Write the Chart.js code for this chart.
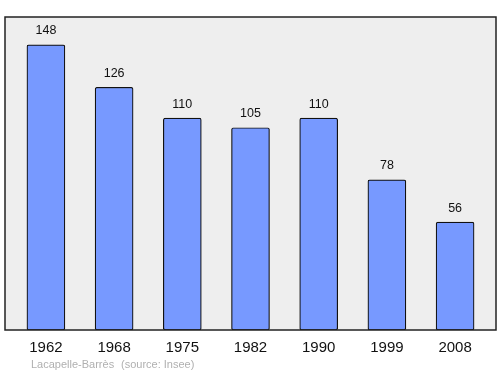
<!DOCTYPE html>
<html>
<head>
<meta charset="utf-8">
<script src="https://cdn.jsdelivr.net/npm/chart.js@4/dist/chart.umd.min.js"></script>
<style>
  html, body { margin: 0; padding: 0; background: #fff; }
  #wrap { width: 500px; height: 374px; }
</style>
</head>
<body>
<div id="wrap"><canvas id="myChart" width="500" height="374"></canvas></div>
<script>
const years = ['1962', '1968', '1975', '1982', '1990', '1999', '2008']
const population = [148, 126, 110, 105, 110, 78, 56]
const placeName = 'Lacapelle-Barrès'
const sourceText = '(source: Insee)'

const frame = {
    id: 'frame',
    beforeDraw(chart) {
        const {ctx, chartArea: a} = chart
        ctx.save()
        ctx.fillStyle = '#eeeeee'
        ctx.fillRect(a.left, a.top, a.right - a.left, a.bottom - a.top)
        ctx.restore()
    },
    afterDraw(chart) {
        const {ctx, chartArea: a} = chart
        ctx.save()
        ctx.strokeStyle = '#222'
        ctx.lineWidth = 1.5
        ctx.strokeRect(a.left, a.top, a.right - a.left, a.bottom - a.top)
        // values above bars
        const meta = chart.getDatasetMeta(0)
        ctx.fillStyle = '#111'
        ctx.font = '12.5px "Liberation Sans", Arial, sans-serif'
        ctx.textAlign = 'center'
        ctx.textBaseline = 'middle'
        meta.data.forEach((bar, i) => {
            ctx.fillText(population[i], bar.x, bar.y - 14)
        })
        ctx.fillStyle = '#b0b0b0'
        ctx.font = '11px "Liberation Sans", Arial, sans-serif'
        ctx.textAlign = 'left'
        ctx.fillText(placeName, 31, 365)
        ctx.fillText(sourceText, 121, 365)
        ctx.restore()
    }
}

const ctx = document.getElementById('myChart').getContext('2d')
const myChart = new Chart(ctx, {
    type: 'bar',
    data: {
        datasets: [{
            data: population.map((v, i) => ({x: i, y: v})),
            backgroundColor: '#7799ff',
            borderColor: '#111',
            borderWidth: 1.2,
            borderSkipped: false,
            borderRadius: 2,
            barThickness: 38
        }]
    },
    options: {
        responsive: false,
        animation: false,
        layout: {padding: {left: 5, right: 4, top: 17, bottom: 0}},
        plugins: {legend: {display: false}, tooltip: {enabled: false}},
        scales: {
            x: {
                type: 'linear',
                offset: false,
                min: -0.6,
                max: 6.6,
                grid: {display: false, drawTicks: false},
                border: {display: false},
                afterBuildTicks(axis) {
                    axis.ticks = years.map((y, i) => ({value: i}))
                },
                afterFit(axis) { axis.height = 44 },
                ticks: {
                    padding: 9,
                    color: '#111',
                    font: {size: 15, family: '"Liberation Sans", Arial, sans-serif'},
                    callback: (v) => years[v]
                }
            },
            y: {
                display: false,
                min: 0,
                max: 162.5
            }
        }
    },
    plugins: [frame]
})
</script>
</body>
</html>
